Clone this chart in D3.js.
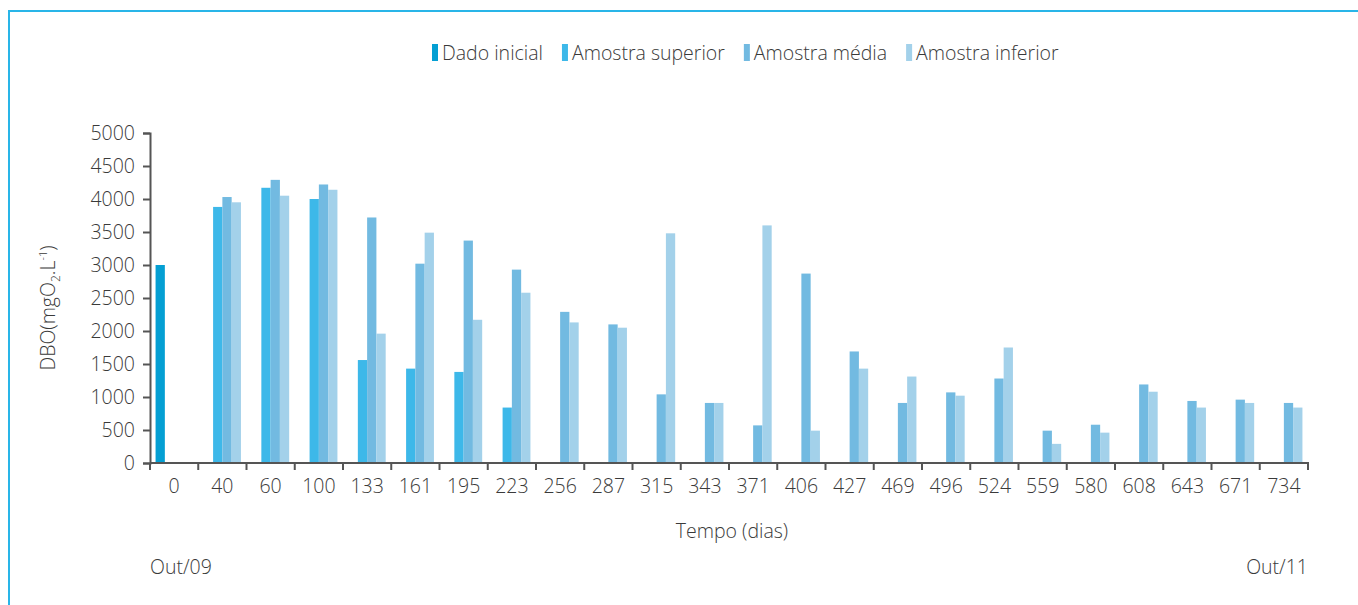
<!DOCTYPE html>
<html>
<head>
<meta charset="utf-8">
<script src="https://cdn.jsdelivr.net/npm/d3@7"></script>
<style>
  body { margin: 0; background: #fff; }
  svg text { font-family: "Open Sans", "Lato", sans-serif; font-weight: 300; fill: #3a3a3a; }
</style>
</head>
<body>
<div class="chart"></div>
<script>
// categories (days)
var dias = ['0','40','60','100','133','161','195','223','256','287','315','343','371','406','427','469','496','524','559','580','608','643','671','734']

// series values, mgO2/L (null = no sample)
var dadoInicial = [3000,null,null,null,null,null,null,null,null,null,null,null,null,null,null,null,null,null,null,null,null,null,null,null]
var amostraSuperior = [null,3880,4170,4000,1560,1430,1380,840,null,null,null,null,null,null,null,null,null,null,null,null,null,null,null,null]
var amostraMedia = [null,4030,4290,4220,3720,3020,3370,2930,2290,2100,1040,910,570,2870,1690,910,1070,1280,490,580,1190,940,960,910]
var amostraInferior = [null,3950,4050,4140,1960,3490,2170,2580,2130,2050,3480,910,3600,490,1430,1310,1020,1750,290,460,1080,840,910,840]

var seriesNames = ['Dado inicial','Amostra superior','Amostra média','Amostra inferior']
var seriesValues = [dadoInicial, amostraSuperior, amostraMedia, amostraInferior]
var seriesColors = ['#049fd3','#3db8e9','#72bae1','#a3d1ea']

var yTicks = [0,500,1000,1500,2000,2500,3000,3500,4000,4500,5000]

var w = 1358, h = 605
var fs = 19.5
var svg = d3.select('div.chart').append('svg')
  .attr('width', w).attr('height', h)

// frame lines (top + left)
svg.append('line').attr('x1', 8).attr('x2', w).attr('y1', 11).attr('y2', 11)
  .attr('stroke', '#29b5e8').attr('stroke-width', 2)
svg.append('line').attr('x1', 9).attr('x2', 9).attr('y1', 10).attr('y2', h)
  .attr('stroke', '#29b5e8').attr('stroke-width', 2)

var plotL = 150, plotR = 1308, plotT = 133, plotB = 463

var x = d3.scaleBand().domain(dias).range([plotL, plotR]).padding(0)
var x1 = d3.scaleBand().domain(seriesNames).range([0, x.bandwidth()]).paddingInner(0).paddingOuter(0.6)
var y = d3.scaleLinear().domain([0, 5000]).range([plotB, plotT])

// bars
seriesNames.forEach(function(name, si) {
  var rows = dias.map(function(d, i) { return {dia: d, v: seriesValues[si][i]} })
    .filter(function(r) { return r.v != null })
  svg.append('g').selectAll('rect')
    .data(rows)
    .enter()
    .append('rect')
    .attr('x', function(r) { return x(r.dia) + x1(name) })
    .attr('width', x1.bandwidth())
    .attr('y', function(r) { return y(r.v) })
    .attr('height', function(r) { return y(0) - y(r.v) })
    .attr('fill', seriesColors[si])
})

// y axis
var yAxis = svg.append('g')
  .attr('transform', 'translate(' + plotL + ',0)')
  .call(d3.axisLeft(y).tickValues(yTicks).tickSize(7).tickPadding(8).tickFormat(d3.format('d')))
yAxis.select('.domain').attr('stroke', '#555').attr('stroke-width', 2)
yAxis.selectAll('.tick line').attr('stroke', '#555').attr('stroke-width', 2)
yAxis.selectAll('text').attr('font-size', fs).attr('font-family', null)

// x axis: ticks on band edges, labels centred
var xAxis = svg.append('g').attr('transform', 'translate(0,' + plotB + ')')
xAxis.append('line').attr('x1', plotL).attr('x2', plotR + 1).attr('stroke', '#555').attr('stroke-width', 2)
var edges = dias.map(function(d) { return x(d) }).concat([plotR])
xAxis.selectAll('line.edge')
  .data(edges)
  .enter()
  .append('line')
  .attr('class', 'edge')
  .attr('x1', d => d).attr('x2', d => d)
  .attr('y1', 0).attr('y2', 7)
  .attr('stroke', '#555').attr('stroke-width', 2)
xAxis.selectAll('text')
  .data(dias)
  .enter()
  .append('text')
  .attr('x', d => x(d) + x.bandwidth() / 2)
  .attr('y', 30)
  .attr('text-anchor', 'middle')
  .attr('font-size', fs)
  .text(d => d)

// axis titles
svg.append('text').attr('x', 732).attr('y', 538).attr('text-anchor', 'middle')
  .attr('font-size', fs).text('Tempo (dias)')

var yl = svg.append('text')
  .attr('transform', 'translate(55,308) rotate(-90)')
  .attr('text-anchor', 'middle')
  .attr('font-size', fs)
yl.append('tspan').text('DBO(mgO')
yl.append('tspan').attr('font-size', 12).attr('dy', 5).text('2')
yl.append('tspan').attr('dy', -5).text('.L')
yl.append('tspan').attr('font-size', 11).attr('dy', -8).text('-1')
yl.append('tspan').attr('dy', 8).text(')')

svg.append('text').attr('x', plotL).attr('y', 574).attr('font-size', fs).text('Out/09')
svg.append('text').attr('x', plotR).attr('y', 574).attr('text-anchor', 'end').attr('font-size', fs).text('Out/11')

// legend
var lx = 432
seriesNames.forEach(function(name, si) {
  svg.append('rect').attr('x', lx).attr('y', 44).attr('width', 6).attr('height', 17)
    .attr('fill', seriesColors[si])
  var t = svg.append('text').attr('x', lx + 10).attr('y', 60).attr('font-size', fs).text(name)
  lx = lx + 10 + t.node().getComputedTextLength() + 19
})
</script>
</body>
</html>
